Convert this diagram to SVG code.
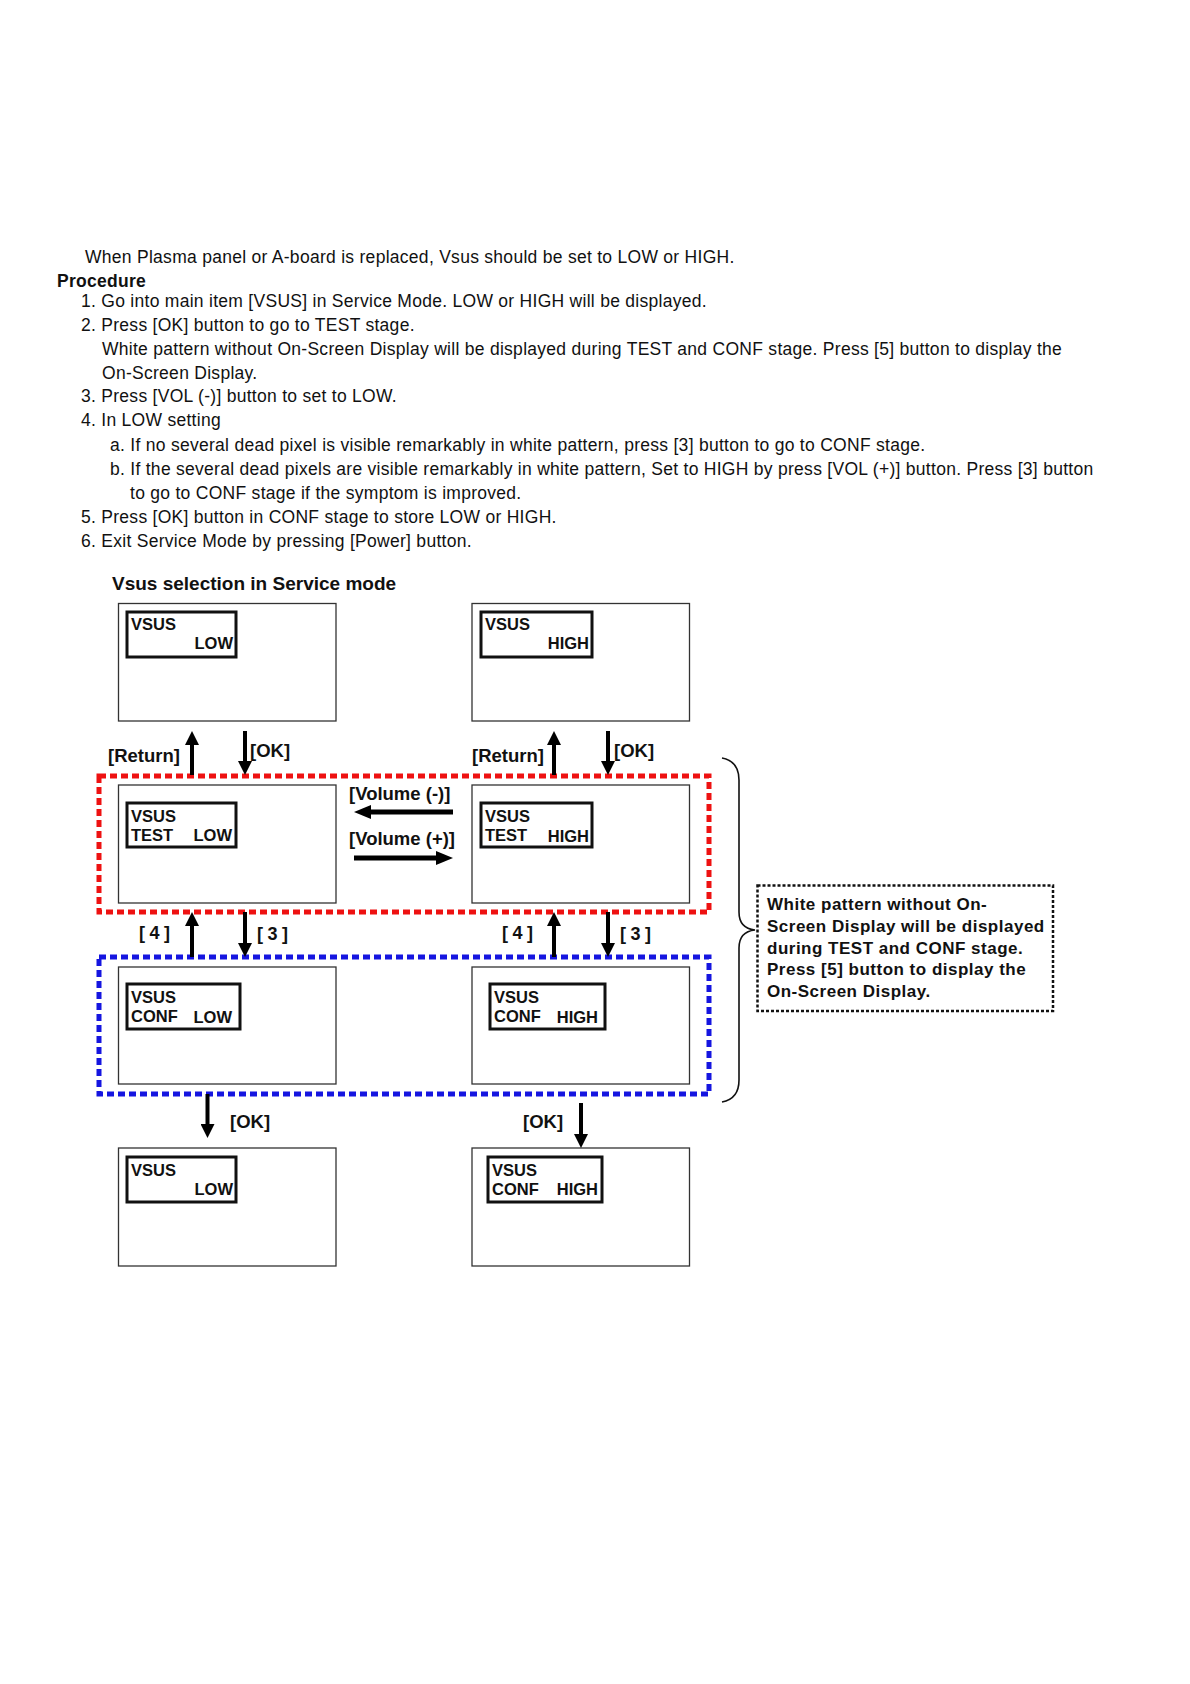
<svg xmlns="http://www.w3.org/2000/svg" width="1190" height="1684" viewBox="0 0 1190 1684">
<style>
.body{font-family:"Liberation Sans",Arial,sans-serif;font-size:17.5px;letter-spacing:0.28px;fill:#111}
.bold{font-weight:bold}
.scr{fill:#fff;stroke:#333;stroke-width:1.3}
.osd{fill:#fff;stroke:#111;stroke-width:3}
.t{font-family:"Liberation Sans",Arial,sans-serif;font-weight:bold;font-size:16.5px;fill:#111}
.lbl{font-family:"Liberation Sans",Arial,sans-serif;font-weight:bold;font-size:18.5px;fill:#111}
.num{font-family:"Liberation Sans",Arial,sans-serif;font-weight:bold;font-size:18px;letter-spacing:4.5px;fill:#111}
.arr{stroke:#000;stroke-width:4;fill:none;marker-end:url(#ah)}
.arrv{stroke:#000;stroke-width:5;fill:none;marker-end:url(#ahv)}
.note{font-family:"Liberation Sans",Arial,sans-serif;font-weight:bold;font-size:17px;letter-spacing:0.5px;fill:#111}
</style>
<defs>
<marker id="ah" markerUnits="userSpaceOnUse" markerWidth="14" markerHeight="14" refX="4" refY="7" orient="auto"><path d="M0,0 L14,7 L0,14 z" fill="#000"/></marker>
<marker id="ahv" markerUnits="userSpaceOnUse" markerWidth="17" markerHeight="14" refX="5" refY="7" orient="auto"><path d="M0,0 L17,7 L0,14 z" fill="#000"/></marker>
</defs>
<rect width="1190" height="1684" fill="#fff"/>

<g id="intro">
<text class="body" x="85" y="263">When Plasma panel or A-board is replaced, Vsus should be set to LOW or HIGH.</text>
<text class="body bold" x="57" y="286.5">Procedure</text>
<text class="body" x="81" y="306.7">1. Go into main item [VSUS] in Service Mode. LOW or HIGH will be displayed.</text>
<text class="body" x="81" y="330.5">2. Press [OK] button to go to TEST stage.</text>
<text class="body" x="102" y="355">White pattern without On-Screen Display will be displayed during TEST and CONF stage. Press [5] button to display the</text>
<text class="body" x="102" y="378.7">On-Screen Display.</text>
<text class="body" x="81" y="402">3. Press [VOL (-)] button to set to LOW.</text>
<text class="body" x="81" y="426.3">4. In LOW setting</text>
<text class="body" x="110" y="450.6">a. If no several dead pixel is visible remarkably in white pattern, press [3] button to go to CONF stage.</text>
<text class="body" x="110" y="475">b. If the several dead pixels are visible remarkably in white pattern, Set to HIGH by press [VOL (+)] button. Press [3] button</text>
<text class="body" x="130" y="499">to go to CONF stage if the symptom is improved.</text>
<text class="body" x="81" y="522.7">5. Press [OK] button in CONF stage to store LOW or HIGH.</text>
<text class="body" x="81" y="546.5">6. Exit Service Mode by pressing [Power] button.</text>
</g>

<text id="title" class="lbl" style="font-size:19px" x="112" y="590">Vsus selection in Service mode</text>

<g id="groups">
<rect id="test-group" x="99" y="776" width="610" height="136" fill="none" stroke="#ee1111" stroke-width="5" stroke-dasharray="7 4"/>
<rect id="conf-group" x="99" y="957" width="610" height="137" fill="none" stroke="#1515e0" stroke-width="5" stroke-dasharray="7 4"/>
</g>

<g id="screen-low">
<rect class="scr" x="118.5" y="603.5" width="217.5" height="117.5"/>
<rect class="osd" x="127" y="612" width="109" height="45"/>
<text class="t" x="131" y="630">VSUS</text>
<text class="t" x="233" y="649" text-anchor="end">LOW</text>
</g>
<g id="screen-high">
<rect class="scr" x="472" y="603.5" width="217.5" height="117.5"/>
<rect class="osd" x="481" y="612" width="111" height="45"/>
<text class="t" x="485" y="630">VSUS</text>
<text class="t" x="589" y="649" text-anchor="end">HIGH</text>
</g>
<g id="screen-test-low">
<rect class="scr" x="118.5" y="785" width="217.5" height="118"/>
<rect class="osd" x="127" y="803" width="109" height="44"/>
<text class="t" x="131" y="822">VSUS</text>
<text class="t" x="131" y="841">TEST</text>
<text class="t" x="232" y="841" text-anchor="end">LOW</text>
</g>
<g id="screen-test-high">
<rect class="scr" x="472" y="785" width="217.5" height="118"/>
<rect class="osd" x="481" y="803" width="111" height="44"/>
<text class="t" x="485" y="822">VSUS</text>
<text class="t" x="485" y="841">TEST</text>
<text class="t" x="589" y="842" text-anchor="end">HIGH</text>
</g>
<g id="screen-conf-low">
<rect class="scr" x="118.5" y="967" width="217.5" height="117"/>
<rect class="osd" x="127" y="984" width="113" height="45"/>
<text class="t" x="131" y="1003">VSUS</text>
<text class="t" x="131" y="1022">CONF</text>
<text class="t" x="232" y="1023" text-anchor="end">LOW</text>
</g>
<g id="screen-conf-high">
<rect class="scr" x="472" y="967" width="217.5" height="117"/>
<rect class="osd" x="490" y="984" width="115" height="45"/>
<text class="t" x="494" y="1003">VSUS</text>
<text class="t" x="494" y="1022">CONF</text>
<text class="t" x="598" y="1023" text-anchor="end">HIGH</text>
</g>
<g id="screen-stored-low">
<rect class="scr" x="118.5" y="1148" width="217.5" height="118"/>
<rect class="osd" x="127" y="1157" width="109" height="45"/>
<text class="t" x="131" y="1176">VSUS</text>
<text class="t" x="233" y="1195" text-anchor="end">LOW</text>
</g>
<g id="screen-stored-high">
<rect class="scr" x="472" y="1148" width="217.5" height="118"/>
<rect class="osd" x="488" y="1157" width="114" height="45"/>
<text class="t" x="492" y="1176">VSUS</text>
<text class="t" x="492" y="1195">CONF</text>
<text class="t" x="598" y="1195" text-anchor="end">HIGH</text>
</g>

<g id="connectors">
<line class="arr" x1="192" y1="775" x2="192" y2="741"/>
<line class="arr" x1="245" y1="731" x2="245" y2="765"/>
<line class="arr" x1="554" y1="775" x2="554" y2="741"/>
<line class="arr" x1="608" y1="731" x2="608" y2="765"/>
<line class="arrv" x1="453" y1="812" x2="366" y2="812"/>
<line class="arrv" x1="354" y1="858" x2="441" y2="858"/>
<line class="arr" x1="192" y1="957" x2="192" y2="922"/>
<line class="arr" x1="245" y1="912" x2="245" y2="947"/>
<line class="arr" x1="554" y1="957" x2="554" y2="922"/>
<line class="arr" x1="608" y1="912" x2="608" y2="947"/>
<line class="arr" x1="207.5" y1="1094" x2="207.5" y2="1128"/>
<line class="arr" x1="581" y1="1103" x2="581" y2="1138"/>
</g>

<g id="connector-labels">
<text class="lbl" x="108" y="762">[Return]</text>
<text class="lbl" x="250" y="757">[OK]</text>
<text class="lbl" x="472" y="762">[Return]</text>
<text class="lbl" x="614" y="757">[OK]</text>
<text class="lbl" x="349" y="800">[Volume (-)]</text>
<text class="lbl" x="349" y="845">[Volume (+)]</text>
<text class="num" x="139" y="939">[4]</text>
<text class="num" x="257" y="940">[3]</text>
<text class="num" x="502" y="939">[4]</text>
<text class="num" x="620" y="940">[3]</text>
<text class="lbl" x="230" y="1128">[OK]</text>
<text class="lbl" x="523" y="1128">[OK]</text>
</g>

<g id="brace">
<path d="M722,758 C733,760 739,767 739,780 L739,912 C739,924 745,929 755,930 C745,931 739,936 739,948 L739,1080 C739,1093 733,1100 722,1102" fill="none" stroke="#111" stroke-width="1.6"/>
</g>

<g id="note">
<rect x="757.5" y="885.5" width="295.5" height="125.5" fill="none" stroke="#111" stroke-width="2.5" stroke-dasharray="3 2"/>
<text class="note" x="767" y="910">White pattern without On-</text>
<text class="note" x="767" y="932">Screen Display will be displayed</text>
<text class="note" x="767" y="953.5">during TEST and CONF stage.</text>
<text class="note" x="767" y="975">Press [5] button to display the</text>
<text class="note" x="767" y="997">On-Screen Display.</text>
</g>
</svg>
